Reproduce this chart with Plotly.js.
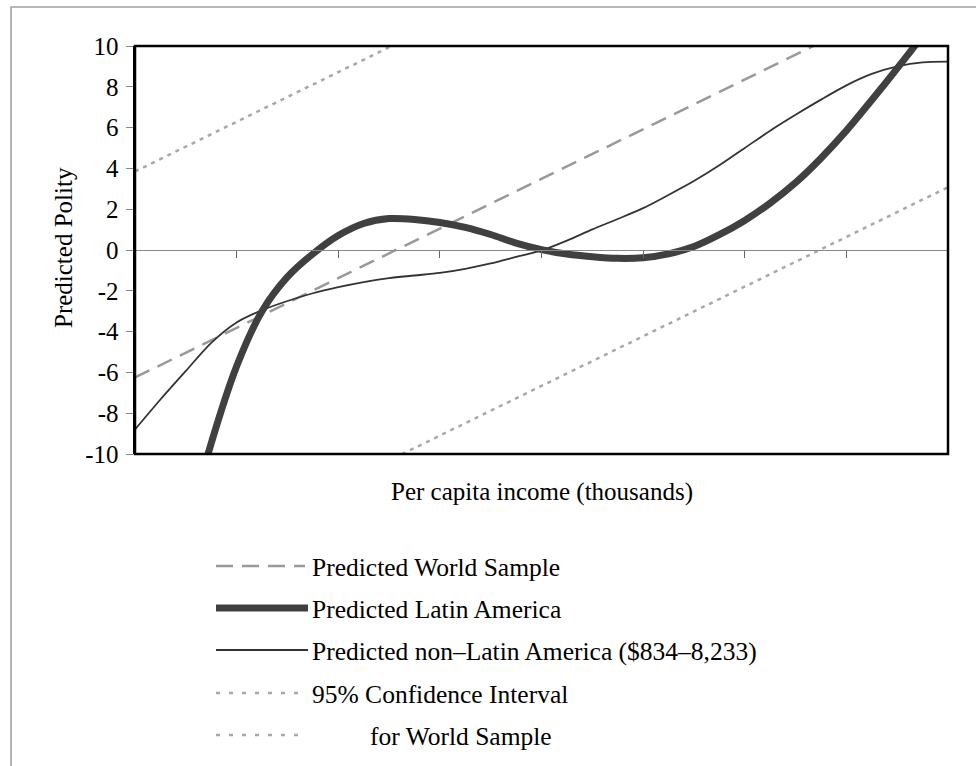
<!DOCTYPE html>
<html>
<head>
<meta charset="utf-8">
<script src="https://cdn.plot.ly/plotly-3.0.1.min.js"></script>
<style>
  html, body { margin: 0; padding: 0; background: #ffffff; }
  #chart { width: 976px; height: 766px; }
</style>
</head>
<body>
<div id="chart"></div>
<script>
// ---------- data ----------
// x = per-capita income position along the axis (tick marks at 0..8)
const lineX = [0, 1, 2, 3, 4, 5, 6, 7, 8];
const worldSample = [-6.25, -3.82, -1.38, 1.05, 3.49, 5.92, 8.36, 10.79, 13.23];
const ciUpper     = [3.85, 6.28, 8.72, 11.15, 13.59, 16.02, 18.46, 20.89, 23.33];
const ciLower     = [-16.4, -13.97, -11.53, -9.1, -6.66, -4.23, -1.79, 0.64, 3.08];

const latinX = [0.5, 0.75, 1.0, 1.25, 1.5, 1.75, 2.0, 2.25, 2.5, 2.75, 3.0, 3.25, 3.5, 3.75,
                4.0, 4.25, 4.5, 4.75, 5.0, 5.25, 5.5, 5.75, 6.0, 6.25, 6.5, 6.75, 7.0, 7.25,
                7.5, 7.75, 8.0];
const latinAmerica = [-14.0, -9.47, -5.7, -3.0, -1.32, -0.19, 0.71, 1.3, 1.54, 1.5, 1.35, 1.11,
                      0.76, 0.34, 0.02, -0.2, -0.33, -0.41, -0.38, -0.19, 0.17, 0.75, 1.45, 2.3,
                      3.3, 4.5, 5.85, 7.35, 8.9, 10.5, 12.1];

const nonLatinX = [0, 0.25, 0.5, 0.75, 1.0, 1.25, 1.5, 1.75, 2.0, 2.25, 2.5, 2.75, 3.0, 3.25,
                   3.5, 3.75, 4.0, 4.25, 4.5, 4.75, 5.0, 5.25, 5.5, 5.75, 6.0, 6.25, 6.5, 6.75,
                   7.0, 7.25, 7.5, 7.75, 8.0];
const nonLatinAmerica = [-8.8, -7.33, -5.93, -4.55, -3.55, -2.95, -2.5, -2.12, -1.82, -1.57, -1.38,
                         -1.25, -1.12, -0.92, -0.66, -0.34, -0.02, 0.46, 1.01, 1.52, 2.05, 2.7,
                         3.38, 4.15, 5.0, 5.85, 6.63, 7.37, 8.07, 8.63, 9.0, 9.2, 9.23];

const yTicks = [-10, -8, -6, -4, -2, 0, 2, 4, 6, 8, 10];
const seriesNames = [
  "Predicted World Sample",
  "Predicted Latin America",
  "Predicted non\u2013Latin America ($834\u20138,233)",
  "95% Confidence Interval",
  "for World Sample"
];
const xTitle = "Per capita income (thousands)";
const yTitle = "Predicted Polity";

// ---------- styling / geometry ----------
const FONT = "Liberation Serif, 'Times New Roman', Times, serif";
const W = 976, H = 766;
const M = {l: 135, r: 28, t: 46, b: 312};
const PW = W - M.l - M.r, PH = H - M.t - M.b;
const px = v => (v - M.l) / PW;          // pixel x -> paper x
const py = v => (H - M.b - v) / PH;      // pixel y -> paper y

const C_WORLD = "#999999", C_CI = "#a8a8a8", C_LATIN = "#404040", C_NON = "#333333";
const D_WORLD = "16px,9px", D_CI = "4px,5px";

const traces = [
  {x: lineX, y: ciUpper, name: seriesNames[3], mode: "lines",
   line: {color: C_CI, width: 2.5, dash: D_CI}},
  {x: lineX, y: ciLower, name: seriesNames[4], mode: "lines",
   line: {color: C_CI, width: 2.5, dash: D_CI}},
  {x: lineX, y: worldSample, name: seriesNames[0], mode: "lines",
   line: {color: C_WORLD, width: 2.5, dash: D_WORLD}},
  {x: nonLatinX, y: nonLatinAmerica, name: seriesNames[2], mode: "lines",
   line: {color: C_NON, width: 1.8, shape: "spline", smoothing: 0.8}},
  {x: latinX, y: latinAmerica, name: seriesNames[1], mode: "lines",
   line: {color: C_LATIN, width: 7, shape: "spline", smoothing: 0.8}}
];

// legend drawn by hand so the sample lines are as long as in the reference
const legendRows = [566, 608, 650, 693, 735];
const legendStyles = [
  {color: C_WORLD, width: 2.5, dash: "17px,9px", x1: 305},
  {color: C_LATIN, width: 7, dash: "solid", x1: 308},
  {color: C_NON, width: 1.8, dash: "solid", x1: 308},
  {color: C_CI, width: 2.5, dash: "4px,9px", x1: 298},
  {color: C_CI, width: 2.5, dash: "4px,9px", x1: 298}
];
const legendTextX = [310, 310, 310, 310, 368];

const shapes = [
  // outer frame (clipped by the page at right and bottom)
  {type: "rect", xref: "paper", yref: "paper", x0: px(11), x1: px(990), y0: py(7), y1: py(790),
   line: {color: "#a0a0a0", width: 1.5}, layer: "below"},
  // plot box
  {type: "rect", xref: "paper", yref: "paper", x0: 0, x1: 1, y0: 0, y1: 1,
   line: {color: "#000000", width: 2.5}}
];
const annotations = [
  {xref: "paper", yref: "paper", x: 0.5, y: py(492), text: xTitle, showarrow: false,
   xanchor: "center", yanchor: "middle", font: {family: FONT, size: 25, color: "#000"}},
  {xref: "paper", yref: "paper", x: px(63), y: py(248), text: yTitle, showarrow: false,
   textangle: -90, xanchor: "center", yanchor: "middle", font: {family: FONT, size: 25, color: "#000"}}
];
legendRows.forEach((row, i) => {
  const s = legendStyles[i];
  shapes.push({type: "line", xref: "paper", yref: "paper", x0: px(216), x1: px(s.x1),
               y0: py(row), y1: py(row), line: {color: s.color, width: s.width, dash: s.dash}});
  annotations.push({xref: "paper", yref: "paper", x: px(legendTextX[i]), y: py(row + 1),
                    text: seriesNames[i], showarrow: false, xanchor: "left", yanchor: "middle",
                    font: {family: FONT, size: 25.5, color: "#000"}});
});

const layout = {
  width: W, height: H,
  margin: M,
  paper_bgcolor: "#ffffff", plot_bgcolor: "#ffffff",
  showlegend: false,
  font: {family: FONT, size: 25, color: "#000"},
  xaxis: {
    range: [0, 8], anchor: "free", position: 0.5,
    showline: true, linecolor: "#888888", linewidth: 1.2,
    ticks: "outside", ticklen: 7, tickcolor: "#666666", tickwidth: 1,
    tick0: 0, dtick: 1, showticklabels: false, showgrid: false, zeroline: false
  },
  yaxis: {
    range: [-10, 10], tickvals: yTicks, ticktext: yTicks.map(String),
    showline: true, linecolor: "#000000", linewidth: 2.5,
    ticks: "outside", ticklen: 7, tickcolor: "#888888", tickwidth: 1,
    ticklabelstandoff: 2,
    showgrid: false, zeroline: false,
    tickfont: {family: FONT, size: 25, color: "#000"}
  },
  shapes: shapes,
  annotations: annotations
};

Plotly.newPlot("chart", traces, layout, {staticPlot: true, displayModeBar: false});
</script>
</body>
</html>
